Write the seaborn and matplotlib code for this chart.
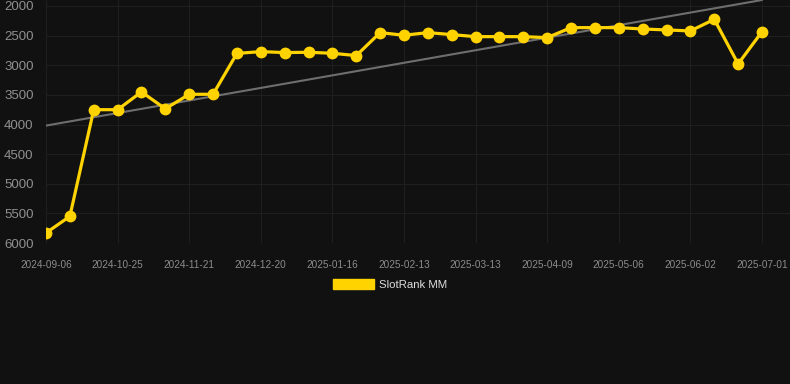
import numpy as np
import pandas as pd
import matplotlib
matplotlib.use("Agg")
import matplotlib.pyplot as plt
from matplotlib.patches import Patch
import seaborn as sns

# rank values, one per snapshot (lower is better, axis inverted)
ranks = [5830, 5550, 3750, 3750, 3450, 3735, 3490, 3490, 2800, 2770,
         2786, 2781, 2798, 2837, 2449, 2494, 2449, 2483, 2517, 2517,
         2517, 2534, 2365, 2365, 2365, 2388, 2404, 2421, 2225, 2978,
         2433]
tick_labels = ["2024-09-06", "2024-10-25", "2024-11-21", "2024-12-20",
               "2025-01-16", "2025-02-13", "2025-03-13", "2025-04-09",
               "2025-05-06", "2025-06-02", "2025-07-01"]
y_ticks = [2000, 2500, 3000, 3500, 4000, 4500, 5000, 5500, 6000]
series_name = "SlotRank MM"

BG = "#111111"
GRID = "#1f1f1f"
GOLD = "#FFD300"

df = pd.DataFrame({"idx": np.arange(len(ranks)), "rank": ranks})

# linear trend over the whole series
coef = np.polyfit(df["idx"], df["rank"], 1)
df["trend"] = np.polyval(coef, df["idx"])

sns.set_style("dark")
plt.rcParams["font.family"] = ["Liberation Sans", "DejaVu Sans"]

fig = plt.figure(figsize=(7.9, 3.84), dpi=100, facecolor=BG)
ax = fig.add_axes([46 / 790, 1 - 243 / 384, 744 / 790, 243 / 384])
ax.set_facecolor(BG)

sns.lineplot(data=df, x="idx", y="trend", ax=ax, color="#6e6e6e", linewidth=1.5)
sns.lineplot(data=df, x="idx", y="rank", ax=ax, color=GOLD, linewidth=2.3,
             marker="o", markersize=8.5, markeredgecolor=GOLD, markeredgewidth=0)

ax.set_xlim(0, 30 + 28 / 23.87)
ax.set_ylim(6000, 2000 - 6 / 0.05925)
ax.set_xticks(np.arange(0, len(ranks), 3))
ax.set_xticklabels(tick_labels)
ax.set_yticks(y_ticks)
ax.set_yticklabels([str(v) for v in y_ticks])

ax.grid(True, color=GRID, linewidth=0.8)
for s in ax.spines.values():
    s.set_visible(False)
ax.tick_params(axis="y", colors=GRID, length=6, width=0.8, labelcolor="#909090",
               labelsize=9.5, pad=3)
ax.tick_params(axis="x", colors=GRID, length=8, width=0.8, labelcolor="#8c8c8c",
               labelsize=7.2, pad=4)
ax.set_xlabel("")
ax.set_ylabel("")

fig.legend(handles=[Patch(facecolor=GOLD, edgecolor=GOLD, label=series_name)],
           loc="center", bbox_to_anchor=(390 / 790, 1 - 284.5 / 384),
           frameon=False, fontsize=8.2, labelcolor="#dddddd",
           handlelength=3.6, handleheight=1.0, handletextpad=0.5)

fig.savefig("out.png", dpi=100, facecolor=BG)
